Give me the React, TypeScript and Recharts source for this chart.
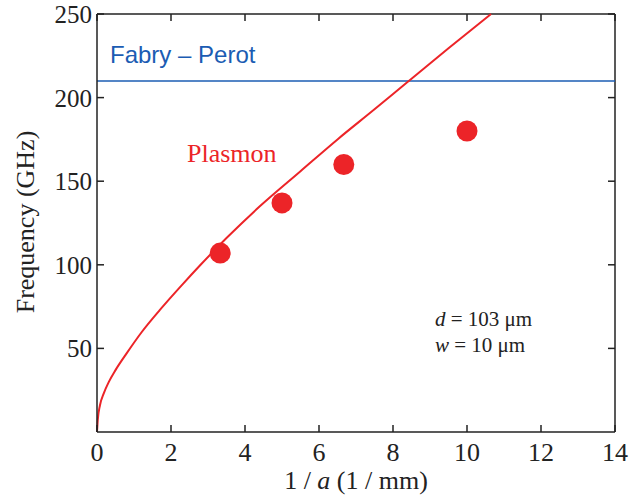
import React from 'react';
import { ComposedChart, Line, Scatter, XAxis, YAxis, ReferenceLine } from 'recharts';

// plasmon dispersion curve
const curveX = [0, 0.02, 0.08, 0.18, 0.32, 0.5, 0.8, 1.2, 1.7, 2.3, 2.8, 3.5, 4.4, 5.5, 6.5, 7.5, 8.4, 9.5, 10.65];
const curveF = [0, 7, 16, 23, 30, 37, 47, 59.5, 73, 88, 100, 116, 135, 156, 175, 193, 209.5, 229.5, 250];

// measured points
const measX = [3.33, 5, 6.67, 10];
const measF = [107, 137, 160, 180];

const fabryPerot = 210;

const xTicks = [0, 2, 4, 6, 8, 10, 12, 14];
const yTicks = [50, 100, 150, 200, 250];

const W = 644;
const H = 495;
const LEFT = 97;
const RIGHT = 615;
const TOP = 14;
const BOTTOM = 432;

const RED = '#ec2428';
const BLUE = '#1b5cb3';
const INK = '#222';
const SERIF = '"Liberation Serif", "Times New Roman", serif';
const SANS = '"Liberation Sans", Arial, sans-serif';

const curveData = curveX.map((x, i) => ({ x, f: curveF[i] }));
const measData = measX.map((x, i) => ({ x, f: measF[i] }));

const XTick = (props: any) => {
  const { x, payload } = props;
  return (
    <g>
      <line x1={x} x2={x} y1={BOTTOM} y2={BOTTOM - 7} stroke={INK} strokeWidth={1.5} />
      <line x1={x} x2={x} y1={TOP} y2={TOP + 7} stroke={INK} strokeWidth={1.5} />
      <text x={x} y={461} textAnchor="middle" fontFamily={SERIF} fontSize={26} fill={INK}>
        {payload.value}
      </text>
    </g>
  );
};

const YTick = (props: any) => {
  const { y, payload } = props;
  return (
    <g>
      <line x1={LEFT} x2={LEFT + 7} y1={y} y2={y} stroke={INK} strokeWidth={1.5} />
      <line x1={RIGHT} x2={RIGHT - 7} y1={y} y2={y} stroke={INK} strokeWidth={1.5} />
      <text x={92} y={y + 9} textAnchor="end" fontFamily={SERIF} fontSize={25} fill={INK}>
        {payload.value}
      </text>
    </g>
  );
};

const Dot = (props: any) => <circle cx={props.cx} cy={props.cy} r={10.5} fill={RED} />;

export default function App() {
  return (
    <div style={{ position: 'absolute', left: 0, top: 0, width: W, height: H, background: '#fff' }}>
      <ComposedChart width={W} height={H} margin={{ top: TOP, right: W - RIGHT, bottom: 0, left: 0 }}>
        <XAxis
          type="number"
          dataKey="x"
          domain={[0, 14]}
          ticks={xTicks}
          height={H - BOTTOM}
          tickSize={0}
          tickMargin={8}
          tick={<XTick />}
          axisLine={{ stroke: INK, strokeWidth: 1.5 }}
          tickLine={false}
          interval={0}
        />
        <YAxis
          type="number"
          dataKey="f"
          domain={[0, 250]}
          ticks={yTicks}
          width={LEFT}
          tickSize={0}
          tickMargin={5}
          tick={<YTick />}
          axisLine={{ stroke: INK, strokeWidth: 1.5 }}
          tickLine={false}
          interval={0}
        />
        <ReferenceLine y={250} stroke={INK} strokeWidth={1.5} />
        <ReferenceLine x={14} stroke={INK} strokeWidth={1.5} />
        <ReferenceLine y={fabryPerot} stroke={BLUE} strokeWidth={1.5} />
        <Line
          data={curveData}
          dataKey="f"
          type="monotone"
          stroke={RED}
          strokeWidth={2}
          dot={false}
          isAnimationActive={false}
        />
        <Scatter data={measData} dataKey="f" fill={RED} shape={<Dot />} isAnimationActive={false} />
      </ComposedChart>
      <svg width={W} height={H} style={{ position: 'absolute', left: 0, top: 0, pointerEvents: 'none' }}>
        <text x={110} y={63} fontFamily={SANS} fontSize={24} fill={BLUE}>
          Fabry – Perot
        </text>
        <text x={187} y={162} fontFamily={SERIF} fontSize={26} fill={RED}>
          Plasmon
        </text>
        <text x={435} y={326} fontFamily={SERIF} fontSize={21} fill={INK}>
          <tspan fontStyle="italic">d</tspan> = 103 μm
        </text>
        <text x={435} y={352} fontFamily={SERIF} fontSize={21} fill={INK}>
          <tspan fontStyle="italic">w</tspan> = 10 μm
        </text>
        <text
          x={34}
          y={222}
          transform="rotate(-90 34 222)"
          textAnchor="middle"
          fontFamily={SERIF}
          fontSize={26}
          fill={INK}
        >
          Frequency (GHz)
        </text>
        <text x={356} y={489} textAnchor="middle" fontFamily={SERIF} fontSize={26} fill={INK}>
          1 / <tspan fontStyle="italic">a</tspan> (1 / mm)
        </text>
      </svg>
    </div>
  );
}
